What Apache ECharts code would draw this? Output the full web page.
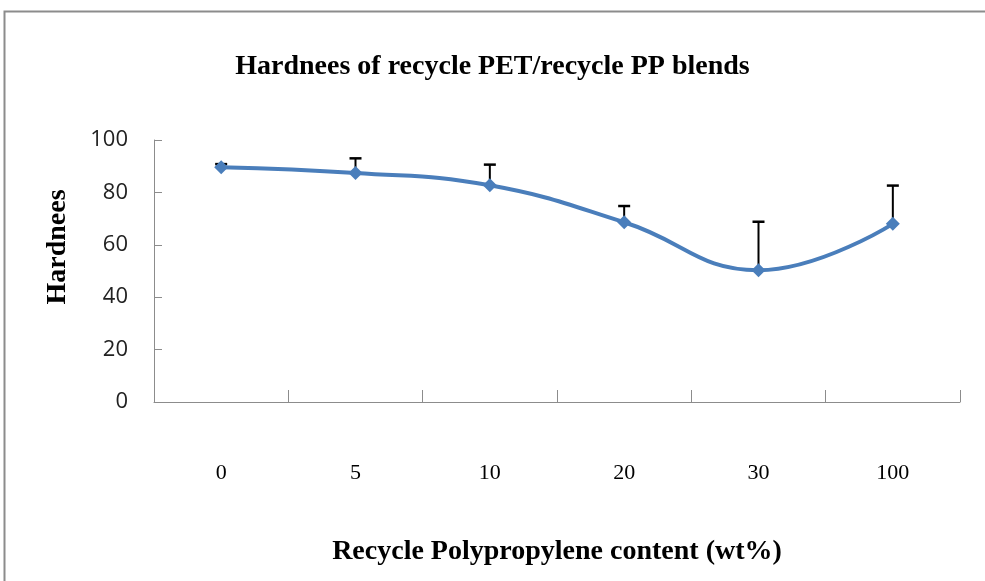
<!DOCTYPE html>
<html>
<head>
<meta charset="utf-8">
<script src="https://cdn.jsdelivr.net/npm/echarts@6/dist/echarts.min.js"></script>
<style>
  html, body { margin: 0; padding: 0; background: #fff; }
  #main { width: 985px; height: 581px; }
</style>
</head>
<body>
<div id="main"></div>
<script>
// data
var categories = ['0', '5', '10', '20', '30', '100'];
var hardness = [89.6, 87.4, 82.7, 68.6, 50.3, 68.0];
var errorUpper = [90.8, 93.0, 90.6, 74.8, 68.8, 82.6]; // top of each error bar
var yTicks = [0, 20, 40, 60, 80, 100];

var serif = '"Liberation Serif", "Times New Roman", serif';

var chart = echarts.init(document.getElementById('main'));

var option = {
  backgroundColor: '#fff',
  animation: false,
  title: {
    text: 'Hardnees of recycle PET/recycle PP blends',
    left: 'center',
    top: 48,
    textStyle: { fontFamily: serif, fontWeight: 'bold', fontSize: 28, color: '#000' }
  },
  graphic: [
    { // outer frame, cut off at the right and bottom like the scan
      type: 'polyline',
      shape: { points: [[4.5, 590], [4.5, 11.5], [990, 11.5]] },
      style: { stroke: '#8c8c8c', lineWidth: 2, fill: null }
    }
  ],
  grid: { left: 154, right: 25, top: 140, bottom: 179 },
  xAxis: {
    type: 'category',
    data: categories,
    boundaryGap: true,
    name: 'Recycle Polypropylene content (wt%)',
    nameLocation: 'middle',
    nameGap: 136,
    nameTextStyle: { fontFamily: serif, fontWeight: 'bold', fontSize: 28, color: '#000' },
    axisLine: { show: true, lineStyle: { color: '#8c8c8c', width: 1 } },
    axisTick: { show: true, inside: true, length: 12, interval: 0, alignWithLabel: false,
      lineStyle: { color: '#8c8c8c', width: 1 } },
    axisLabel: { margin: 60, fontFamily: serif, fontSize: 22, color: '#000' },
    splitLine: { show: false }
  },
  yAxis: {
    type: 'value',
    min: 0,
    max: 100,
    interval: 20,
    name: 'Hardnees',
    nameLocation: 'middle',
    nameGap: 82,
    nameTextStyle: { fontFamily: serif, fontWeight: 'bold', fontSize: 28, color: '#000',
      padding: [0, 0, 0, 48] },
    axisLine: { show: true, lineStyle: { color: '#8c8c8c', width: 1 } },
    axisTick: { show: true, inside: true, length: 8, lineStyle: { color: '#8c8c8c' } },
    axisLabel: {
      margin: 26, fontFamily: '"Open Sans", "Noto Sans", sans-serif', fontSize: 22, color: '#222',
      formatter: function (v) { return yTicks.indexOf(v) >= 0 ? String(v) : ''; }
    },
    splitLine: { show: false }
  },
  series: [
    {
      name: 'Hardnees',
      type: 'line',
      data: hardness,
      smooth: 0.45,
      symbol: 'diamond',
      symbolSize: 14,
      lineStyle: { color: '#4a7ebb', width: 4 },
      itemStyle: { color: '#4a7ebb' },
      z: 3
    },
    {
      name: 'error',
      type: 'custom',
      data: hardness.map(function (v, i) { return [i, v, errorUpper[i]]; }),
      renderItem: function (params, api) {
        var base = api.coord([api.value(0), api.value(1)]);
        var top = api.coord([api.value(0), api.value(2)]);
        var half = 6;
        return {
          type: 'group',
          children: [
            { type: 'line', shape: { x1: base[0], y1: base[1], x2: top[0], y2: top[1] },
              style: { stroke: '#000', lineWidth: 2 } },
            { type: 'line', shape: { x1: top[0] - half, y1: top[1], x2: top[0] + half, y2: top[1] },
              style: { stroke: '#000', lineWidth: 2.5 } }
          ]
        };
      },
      z: 2
    }
  ]
};

chart.setOption(option);
</script>
</body>
</html>
